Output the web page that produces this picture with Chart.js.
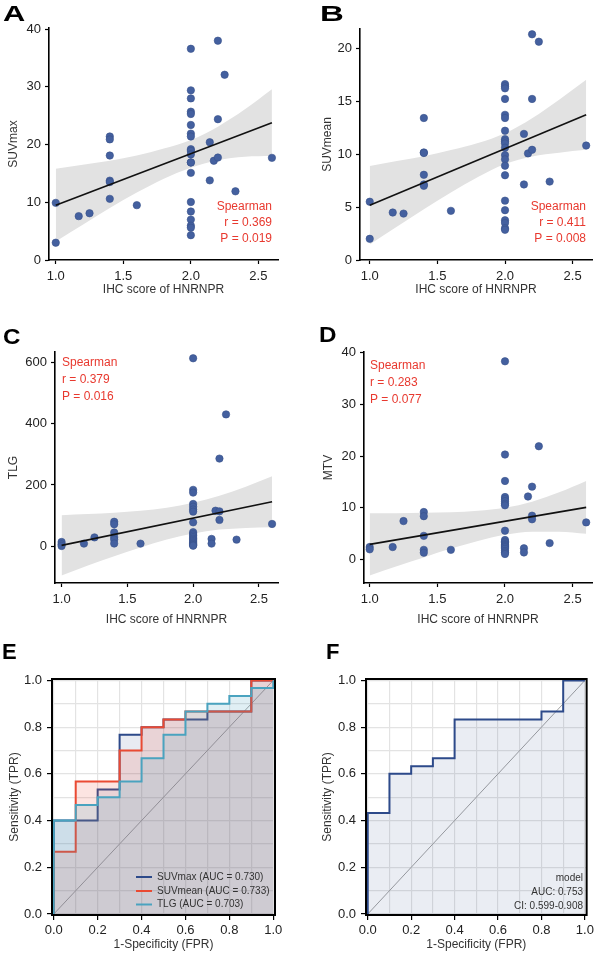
<!DOCTYPE html>
<html>
<head>
<meta charset="utf-8">
<script src="https://cdn.jsdelivr.net/npm/chart.js@4.4.1/dist/chart.umd.min.js"></script>
<style>
  body { margin: 0; background: #fff; width: 597px; height: 955px; position: relative; overflow: hidden; }
  canvas { position: absolute; }
</style>
</head>
<body>
<canvas id="pA" width="298" height="300" style="left:0;top:0"></canvas>
<canvas id="pB" width="299" height="300" style="left:298px;top:0"></canvas>
<canvas id="pC" width="298" height="330" style="left:0;top:300px"></canvas>
<canvas id="pD" width="299" height="330" style="left:298px;top:300px"></canvas>
<canvas id="pE" width="298" height="315" style="left:0;top:640px"></canvas>
<canvas id="pF" width="299" height="315" style="left:298px;top:640px"></canvas>
<script>
// ---- scatter data (IHC score vs PET parameters) ----
const xA = [1.0, 1.0, 1.17, 1.25, 1.4, 1.4, 1.4, 1.4, 1.4, 1.4, 1.6,
  2.0, 2.0, 2.0, 2.0, 2.0, 2.0, 2.0, 2.0, 2.0, 2.0, 2.0, 2.0, 2.0, 2.0, 2.0, 2.0, 2.0, 2.0, 2.0, 2.0,
  2.14, 2.14, 2.17, 2.2, 2.2, 2.2, 2.25, 2.33, 2.6];
const suvmax = [9.9, 3.0, 7.6, 8.1, 21.4, 20.9, 18.1, 13.75, 13.5, 10.6, 9.5,
  36.6, 29.4, 28.0, 25.7, 25.3, 23.4, 21.9, 21.4, 19.2, 18.9, 18.3, 16.9, 16.9, 15.1, 10.05, 8.4, 7.0, 5.95, 5.6, 4.3,
  20.4, 13.8, 17.2, 38.0, 24.4, 17.75, 32.1, 11.9, 17.7];

const xB = [1.0, 1.0, 1.17, 1.25, 1.4, 1.4, 1.4, 1.4, 1.4, 1.4, 1.6,
  2.0, 2.0, 2.0, 2.0, 2.0, 2.0, 2.0, 2.0, 2.0, 2.0, 2.0, 2.0, 2.0, 2.0, 2.0, 2.0, 2.0, 2.0, 2.0, 2.0, 2.0,
  2.14, 2.14, 2.17, 2.2, 2.2, 2.2, 2.25, 2.33, 2.6];
const suvmean = [5.5, 2.0, 4.48, 4.38, 13.4, 10.15, 10.1, 8.04, 7.13, 7.0, 4.64,
  16.6, 16.4, 16.2, 15.2, 13.7, 13.4, 12.2, 11.4, 11.2, 11.0, 10.6, 9.9, 9.5, 8.9, 8.0, 5.6, 4.7, 3.75, 3.5, 3.0, 2.85,
  11.9, 7.13, 10.06, 21.3, 15.2, 10.4, 20.6, 7.4, 10.8];

const xC = [1.0, 1.0, 1.0, 1.17, 1.25, 1.4, 1.4, 1.4, 1.4, 1.4, 1.4, 1.6,
  2.0, 2.0, 2.0, 2.0, 2.0, 2.0, 2.0, 2.0, 2.0, 2.0, 2.0, 2.0, 2.0, 2.0, 2.0, 2.0, 2.0, 2.0, 2.0, 2.0,
  2.14, 2.14, 2.17, 2.2, 2.2, 2.2, 2.25, 2.33, 2.6];
const tlg = [14, 6.5, 1, 8.7, 29, 80, 72, 45, 30, 22, 9, 8.7,
  613, 184, 175, 138, 129, 120, 113, 78, 46, 40, 35, 30, 25, 21, 17, 13, 9, 6, 4, 2,
  24, 8.7, 116, 286, 114, 86, 430, 21.7, 72.8];

const xD = [1.0, 1.0, 1.17, 1.25, 1.4, 1.4, 1.4, 1.4, 1.4, 1.6,
  2.0, 2.0, 2.0, 2.0, 2.0, 2.0, 2.0, 2.0, 2.0, 2.0, 2.0, 2.0, 2.0, 2.0, 2.0, 2.0, 2.0, 2.0, 2.0, 2.0,
  2.14, 2.14, 2.17, 2.2, 2.2, 2.2, 2.25, 2.33, 2.6];
const mtv = [2.44, 2.0, 2.44, 7.46, 9.2, 8.4, 4.6, 1.9, 1.35, 1.9,
  38.3, 20.3, 15.2, 12.1, 11.7, 11.3, 10.8, 10.5, 5.6, 3.8, 3.5, 3.3, 3.0, 2.8, 2.6, 2.4, 2.1, 1.7, 1.4, 1.1,
  2.2, 1.4, 12.2, 14.1, 8.5, 7.8, 21.9, 3.2, 7.2];

// fitted lines and 95% bands
const fitX = [1.0, 2.6];
const fitA = [9.5, 23.8];
const fitB = [5.17, 13.7];
const fitC = [3, 145];
const fitD = [2.96, 10.1];
const bandX = [1.0, 1.2, 1.4, 1.6, 1.8, 2.0, 2.2, 2.4, 2.6];
const bandA_hi = [15.8, 16.5, 17.2, 18.1, 19.3, 20.8, 23.1, 26.1, 29.6];
const bandA_lo = [3.2, 6.1, 9.0, 11.7, 14.1, 16.0, 17.3, 17.9, 18.0];
const bandB_hi = [8.87, 9.34, 9.8, 10.37, 11.03, 11.95, 13.37, 15.13, 17.0];
const bandB_lo = [1.47, 3.14, 4.8, 6.37, 7.83, 9.05, 9.77, 10.13, 10.4];
const bandC_hi = [101, 105, 109.5, 116, 126, 142, 164.5, 194, 228];
const bandC_lo = [-95, -63, -32.5, -4, 22, 42, 54.5, 60, 62];
const bandD_hi = [8.96, 8.95, 9.04, 9.14, 9.43, 10.02, 11.21, 13.0, 15.2];
const bandD_lo = [-3.04, -1.25, 0.44, 2.14, 3.63, 4.82, 5.41, 5.4, 5.0];

const xTicks = [1.0, 1.5, 2.0, 2.5];
const yTicksA = [0, 10, 20, 30, 40];
const yTicksB = [0, 5, 10, 15, 20];
const yTicksC = [0, 200, 400, 600];
const yTicksD = [0, 10, 20, 30, 40];

// ---- ROC curves ----
const fprMax = [0, 0, 0.2, 0.2, 0.3, 0.3, 0.4, 0.4, 0.5, 0.5, 0.7, 0.7, 0.9, 0.9, 1];
const tprMax = [0, 0.4, 0.4, 0.533, 0.533, 0.767, 0.767, 0.8, 0.8, 0.833, 0.833, 0.867, 0.867, 1, 1];
const fprMean = [0, 0, 0.1, 0.1, 0.3, 0.3, 0.4, 0.4, 0.5, 0.5, 0.6, 0.6, 0.9, 0.9, 1];
const tprMean = [0, 0.267, 0.267, 0.567, 0.567, 0.7, 0.7, 0.8, 0.8, 0.833, 0.833, 0.867, 0.867, 1, 1];
const fprTlg = [0, 0, 0.1, 0.1, 0.2, 0.2, 0.3, 0.3, 0.4, 0.4, 0.5, 0.5, 0.6, 0.6, 0.7, 0.7, 0.8, 0.8, 0.9, 0.9, 1, 1];
const tprTlg = [0, 0.4, 0.4, 0.467, 0.467, 0.5, 0.5, 0.567, 0.567, 0.667, 0.667, 0.767, 0.767, 0.867, 0.867, 0.9, 0.9, 0.933, 0.933, 0.967, 0.967, 1];
const fprModel = [0, 0, 0.1, 0.1, 0.2, 0.2, 0.3, 0.3, 0.4, 0.4, 0.8, 0.8, 0.9, 0.9, 1];
const tprModel = [0, 0.433, 0.433, 0.6, 0.6, 0.633, 0.633, 0.667, 0.667, 0.833, 0.833, 0.867, 0.867, 1, 1];
const rocTicks = [0, 0.1, 0.2, 0.3, 0.4, 0.5, 0.6, 0.7, 0.8, 0.9, 1.0];
const rocLabels = ['SUVmax (AUC = 0.730)', 'SUVmean (AUC = 0.733)', 'TLG (AUC = 0.703)'];

Chart.defaults.font.family = "'Liberation Sans', Arial, sans-serif";
Chart.defaults.color = '#222';

const RED = '#e8392f';
const NAVY = '#2d4a8a';
const ORANGE = '#ea4a33';
const TEAL = '#4aa3bf';

const pts = (xs, ys) => xs.map((x, i) => ({ x: x, y: ys[i] }));

// text, legend keys, frame box
const notes = {
  id: 'notes',
  afterDraw(chart, args, o) {
    const ctx = chart.ctx;
    ctx.save();
    if (o.box) {
      const a = chart.chartArea;
      ctx.strokeStyle = '#000';
      ctx.lineWidth = 2;
      ctx.strokeRect(a.left, a.top, a.right - a.left, a.bottom - a.top);
    }
    (o.keys || []).forEach(k => {
      ctx.strokeStyle = k.color;
      ctx.lineWidth = 2;
      ctx.beginPath();
      ctx.moveTo(k.x1, k.y);
      ctx.lineTo(k.x2, k.y);
      ctx.stroke();
    });
    (o.items || []).forEach(t => {
      ctx.save();
      ctx.font = t.font;
      ctx.fillStyle = t.color || '#222';
      ctx.textAlign = t.align || 'left';
      ctx.textBaseline = t.base || 'middle';
      ctx.translate(t.x, t.y);
      ctx.scale(t.sx || 1, 1);
      ctx.fillText(t.text, 0, 0);
      ctx.restore();
    });
    ctx.restore();
  }
};
Chart.register(notes);

const letter = (s, x, y, sx) => ({ text: s, x: x, y: y, sx: sx, font: 'bold 22px "Liberation Sans", Arial', color: '#000', base: 'alphabetic' });
const stat = (s, x, y, align) => ({ text: s, x: x, y: y, font: '12px "Liberation Sans", Arial', color: RED, align: align });

function scatterPanel(id, o) {
  new Chart(document.getElementById(id), {
    type: 'scatter',
    data: {
      datasets: [
        { type: 'line', data: pts(fitX, o.fit), borderColor: '#111', borderWidth: 1.6, pointRadius: 0 },
        { data: pts(o.xs, o.ys), backgroundColor: '#44609f', borderColor: '#37508a', borderWidth: 0.6, pointRadius: 3.7 },
        { type: 'line', data: pts(bandX, o.hi), borderColor: 'transparent', borderWidth: 0, pointRadius: 0,
          fill: '+1', backgroundColor: '#e2e2e2', cubicInterpolationMode: 'monotone' },
        { type: 'line', data: pts(bandX, o.lo), borderColor: 'transparent', borderWidth: 0, pointRadius: 0,
          fill: false, cubicInterpolationMode: 'monotone' }
      ]
    },
    options: {
      animation: false,
      responsive: false,
      layout: { padding: { left: 0, top: o.top, right: o.right, bottom: 0 } },
      plugins: { legend: { display: false }, tooltip: { enabled: false }, notes: { items: o.notes } },
      scales: {
        x: {
          type: 'linear', min: o.xMin, max: o.xMax,
          afterBuildTicks: s => { s.ticks = xTicks.map(v => ({ value: v })); },
          afterFit: s => { s.height = o.xh; },
          ticks: { font: { size: 13 }, padding: 5, maxRotation: 0, autoSkip: false, callback: v => v.toFixed(1) },
          grid: { drawOnChartArea: false, tickLength: 4, tickColor: '#000', tickWidth: 1.2 },
          border: { color: '#000', width: 1.6 },
          title: { display: true, text: 'IHC score of HNRNPR', font: { size: 12 }, color: '#333', padding: { top: 0, bottom: 3 } }
        },
        y: {
          min: o.yMin, max: o.yMax,
          afterBuildTicks: s => { s.ticks = o.yTicks.map(v => ({ value: v })); },
          afterFit: s => { s.width = o.yw; },
          ticks: { font: { size: 13 }, padding: 4, autoSkip: false },
          grid: { drawOnChartArea: false, tickLength: 4, tickColor: '#000', tickWidth: 1.2 },
          border: { color: '#000', width: 1.6 },
          title: { display: true, text: o.ytitle, font: { size: 12 }, color: '#333', padding: { top: o.ytPad, bottom: 0 } }
        }
      }
    }
  });
}

scatterPanel('pA', {
  xs: xA, ys: suvmax, fit: fitA, hi: bandA_hi, lo: bandA_lo, yTicks: yTicksA,
  xMin: 0.95, xMax: 2.645, yMin: 0, yMax: 40.2, top: 28, right: 20, xh: 40, yw: 49, ytPad: 6,
  ytitle: 'SUVmax',
  notes: [letter('A', 3, 21, 1.4), stat('Spearman', 272, 207, 'right'), stat('r = 0.369', 272, 223, 'right'), stat('P = 0.019', 272, 239, 'right')]
});
scatterPanel('pB', {
  xs: xB, ys: suvmean, fit: fitB, hi: bandB_hi, lo: bandB_lo, yTicks: yTicksB,
  xMin: 0.928, xMax: 2.643, yMin: 0, yMax: 21.8, top: 29, right: 5, xh: 40, yw: 62, ytPad: 22,
  ytitle: 'SUVmean',
  notes: [letter('B', 22, 21, 1.5), stat('Spearman', 288, 207, 'right'), stat('r = 0.411', 288, 223, 'right'), stat('P = 0.008', 288, 239, 'right')]
});
scatterPanel('pC', {
  xs: xC, ys: tlg, fit: fitC, hi: bandC_hi, lo: bandC_lo, yTicks: yTicksC,
  xMin: 0.95, xMax: 2.645, yMin: -119.7, yMax: 633.5, top: 52, right: 20, xh: 47, yw: 55, ytPad: 6,
  ytitle: 'TLG',
  notes: [letter('C', 3, 44, 1.1), stat('Spearman', 62, 63, 'left'), stat('r = 0.379', 62, 80, 'left'), stat('P = 0.016', 62, 97, 'left')]
});
scatterPanel('pD', {
  xs: xD, ys: mtv, fit: fitD, hi: bandD_hi, lo: bandD_lo, yTicks: yTicksD,
  xMin: 0.958, xMax: 2.643, yMin: -4.5, yMax: 40.1, top: 52, right: 5, xh: 47, yw: 66, ytPad: 23.5,
  ytitle: 'MTV',
  notes: [letter('D', 21, 42, 1.1), stat('Spearman', 72, 66, 'left'), stat('r = 0.283', 72, 83, 'left'), stat('P = 0.077', 72, 100, 'left')]
});

function rocScales(o) {
  const ax = (title, pad, isX) => ({
    type: 'linear', min: isX ? -0.008 : -0.004, max: isX ? 1.008 : 1.006,
    afterBuildTicks: s => { s.ticks = rocTicks.map(v => ({ value: v })); },
    afterFit: s => { if (isX) s.height = 40; else s.width = o.yw; },
    ticks: { font: { size: 13 }, padding: isX ? 3 : 5, maxRotation: 0, autoSkip: false,
      callback: (v, i) => (i % 2 === 0 ? v.toFixed(1) : '') },
    grid: { color: '#e3e3e3', lineWidth: 1.2, tickLength: 5, tickWidth: 1.2,
      tickColor: c => (c.index % 2 === 0 ? '#000' : 'rgba(0,0,0,0)') },
    border: { display: false },
    title: { display: true, text: title, font: { size: 12 }, color: '#333',
      padding: isX ? { top: 0, bottom: 3 } : { top: pad, bottom: 0 } }
  });
  return { x: ax('1-Specificity (FPR)', 0, true), y: ax('Sensitivity (TPR)', o.ytPad, false) };
}

const diag = { data: pts([0, 1], [0, 1]), borderColor: '#a0a0a0', borderWidth: 1, pointRadius: 0, fill: false };

new Chart(document.getElementById('pE'), {
  type: 'line',
  data: {
    datasets: [
      { data: pts(fprTlg, tprTlg), borderColor: TEAL, borderWidth: 2, pointRadius: 0, fill: 'origin', backgroundColor: 'rgba(74,163,191,0.17)' },
      { data: pts(fprMean, tprMean), borderColor: ORANGE, borderWidth: 2, pointRadius: 0, fill: 'origin', backgroundColor: 'rgba(234,74,51,0.15)' },
      { data: pts(fprMax, tprMax), borderColor: NAVY, borderWidth: 2, pointRadius: 0, fill: 'origin', backgroundColor: 'rgba(45,74,138,0.11)' },
      diag
    ]
  },
  options: {
    animation: false, responsive: false,
    layout: { padding: { left: 0, top: 39, right: 23, bottom: 0 } },
    plugins: {
      legend: { display: false }, tooltip: { enabled: false },
      notes: {
        box: true,
        keys: [
          { x1: 136, x2: 152, y: 237, color: NAVY },
          { x1: 136, x2: 152, y: 251, color: ORANGE },
          { x1: 136, x2: 152, y: 264.5, color: TEAL }
        ],
        items: [
          letter('E', 2, 19),
          { text: rocLabels[0], x: 157, y: 237, font: '10px "Liberation Sans", Arial', color: '#333' },
          { text: rocLabels[1], x: 157, y: 251, font: '10px "Liberation Sans", Arial', color: '#333' },
          { text: rocLabels[2], x: 157, y: 264.5, font: '10px "Liberation Sans", Arial', color: '#333' }
        ]
      }
    },
    scales: rocScales({ yw: 52, ytPad: 7 })
  }
});

new Chart(document.getElementById('pF'), {
  type: 'line',
  data: {
    datasets: [
      { data: pts(fprModel, tprModel), borderColor: NAVY, borderWidth: 2, pointRadius: 0, fill: 'origin', backgroundColor: 'rgba(45,74,138,0.1)' },
      diag
    ]
  },
  options: {
    animation: false, responsive: false,
    layout: { padding: { left: 0, top: 39, right: 8, bottom: 0 } },
    plugins: {
      legend: { display: false }, tooltip: { enabled: false },
      notes: {
        box: true,
        items: [
          letter('F', 28, 19),
          { text: 'model', x: 285, y: 238, font: '10px "Liberation Sans", Arial', color: '#333', align: 'right' },
          { text: 'AUC: 0.753', x: 285, y: 252, font: '10px "Liberation Sans", Arial', color: '#333', align: 'right' },
          { text: 'CI: 0.599-0.908', x: 285, y: 266, font: '10px "Liberation Sans", Arial', color: '#333', align: 'right' }
        ]
      }
    },
    scales: rocScales({ yw: 68, ytPad: 22.5 })
  }
});
</script>
</body>
</html>
